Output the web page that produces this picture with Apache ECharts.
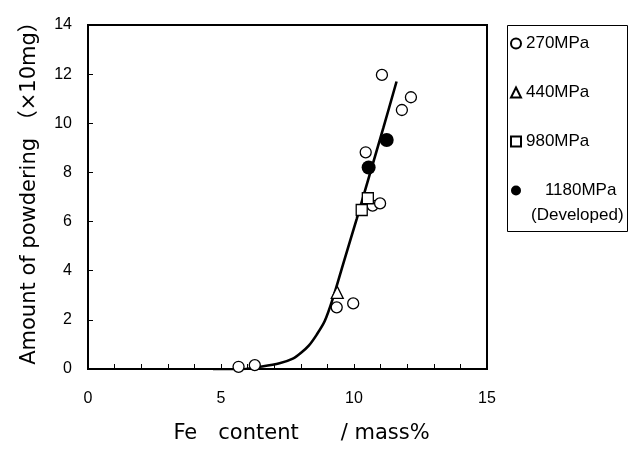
<!DOCTYPE html>
<html>
<head>
<meta charset="utf-8">
<script src="https://cdn.jsdelivr.net/npm/echarts@6/dist/echarts.min.js"></script>
<style>
  html, body { margin: 0; padding: 0; background: #fff; }
  #chart { width: 636px; height: 452px; }
</style>
</head>
<body>
<div id="chart"></div>
<script>
// measured points, Fe content (mass%) vs powdering (x10mg)
var fe270 = [5.66, 6.27, 9.35, 9.97, 10.70, 10.98, 10.44, 11.80, 12.14, 11.05];
var amt270 = [0.09, 0.16, 2.51, 2.67, 6.65, 6.74, 8.82, 10.54, 11.06, 11.97];
var fe440 = [9.37];
var amt440 = [3.12];
var fe980 = [10.29, 10.52];
var amt980 = [6.47, 6.95];
var fe1180 = [10.55, 11.23];
var amt1180 = [8.20, 9.32];

// trend curve drawn by hand in the original
var curveFe = [4.7, 5.6, 6.4, 7.2, 7.7, 8.0, 8.3, 8.6, 8.9, 9.2, 9.6, 10.1, 10.6, 11.1, 11.6];
var curveAmt = [-0.07, -0.04, 0.08, 0.23, 0.42, 0.65, 0.95, 1.4, 1.95, 2.85, 4.3, 6.1, 7.95, 9.8, 11.7];

var xTicks = [0, 5, 10, 15];

function pairs(xs, ys) {
  return xs.map(function (x, i) { return [x, ys[i]]; });
}

var myChart = echarts.init(document.getElementById("chart"));

var hollow = { color: "#fff", borderColor: "#000", borderWidth: 1.3, opacity: 1 };
var font = "'Liberation Sans', Arial, sans-serif";
var nameFont = "'DejaVu Sans', 'Noto Sans CJK JP', sans-serif";

var option = {
  animation: false,
  backgroundColor: "#fff",
  grid: {
    left: 88, right: 149, top: 25, bottom: 83,
    show: true, borderColor: "#000", borderWidth: 2
  },
  legend: {
    orient: "vertical",
    left: 510, top: 35,
    padding: 0,
    itemGap: 32,
    itemWidth: 10, itemHeight: 10,
    textStyle: { fontSize: 17, lineHeight: 17, color: "#000", fontFamily: font },
    formatter: function (name) {
      return name === "1180MPa" ? "    1180MPa" : name;
    },
    data: ["270MPa", "440MPa", "980MPa", "1180MPa"]
  },
  xAxis: {
    type: "value",
    min: 0, max: 15, interval: 1,
    name: "Fe\u3000content\u3000\u3000/ mass%",
    nameLocation: "middle",
    nameGap: 54,
    nameTextStyle: { fontSize: 21, color: "#000", fontFamily: nameFont, padding: [0, 0, 0, 28] },
    axisLine: { onZero: false, lineStyle: { color: "#000", width: 2 } },
    axisTick: { inside: true, length: 5, lineStyle: { color: "#000", width: 1 } },
    axisLabel: {
      margin: 22, fontSize: 16, color: "#000", fontFamily: font,
      formatter: function (v) { return xTicks.indexOf(v) >= 0 ? String(v) : ""; }
    },
    splitLine: { show: false }
  },
  yAxis: {
    type: "value",
    min: 0, max: 14, interval: 2,
    name: "Amount of powdering （×10mg）",
    nameLocation: "middle",
    nameRotate: 90,
    nameGap: 48,
    nameTextStyle: { fontSize: 21, color: "#000", fontFamily: nameFont, padding: [0, 0, 0, 18] },
    axisLine: { onZero: false, lineStyle: { color: "#000", width: 2 } },
    axisTick: { inside: true, length: 5, lineStyle: { color: "#000", width: 1 } },
    axisLabel: { margin: 16, fontSize: 16, color: "#000", fontFamily: font },
    splitLine: { show: false }
  },
  graphic: [
    {
      type: "rect",
      shape: { x: 507.5, y: 25.5, width: 120, height: 206 },
      style: { fill: "none", stroke: "#000", lineWidth: 1 },
      silent: true
    },
    {
      type: "text",
      x: 531, y: 215,
      style: {
        text: "(Developed)", fontSize: 17, fontFamily: font,
        fill: "#000", verticalAlign: "middle"
      }
    }
  ],
  series: [
    {
      type: "line",
      data: pairs(curveFe, curveAmt),
      smooth: 0.3,
      showSymbol: false,
      lineStyle: { color: "#000", width: 2.6 },
      z: 1,
      silent: true
    },
    {
      name: "270MPa",
      type: "scatter",
      symbol: "circle",
      symbolSize: 11,
      itemStyle: hollow,
      data: pairs(fe270, amt270),
      z: 3
    },
    {
      name: "440MPa",
      type: "scatter",
      symbol: "triangle",
      symbolSize: 12,
      itemStyle: hollow,
      data: pairs(fe440, amt440),
      z: 3
    },
    {
      name: "980MPa",
      type: "scatter",
      symbol: "rect",
      symbolSize: 11,
      itemStyle: hollow,
      data: pairs(fe980, amt980),
      z: 3
    },
    {
      name: "1180MPa",
      type: "scatter",
      symbol: "circle",
      symbolSize: 14,
      itemStyle: { color: "#000", opacity: 1 },
      data: pairs(fe1180, amt1180),
      z: 4
    }
  ]
};

myChart.setOption(option);
</script>
</body>
</html>
